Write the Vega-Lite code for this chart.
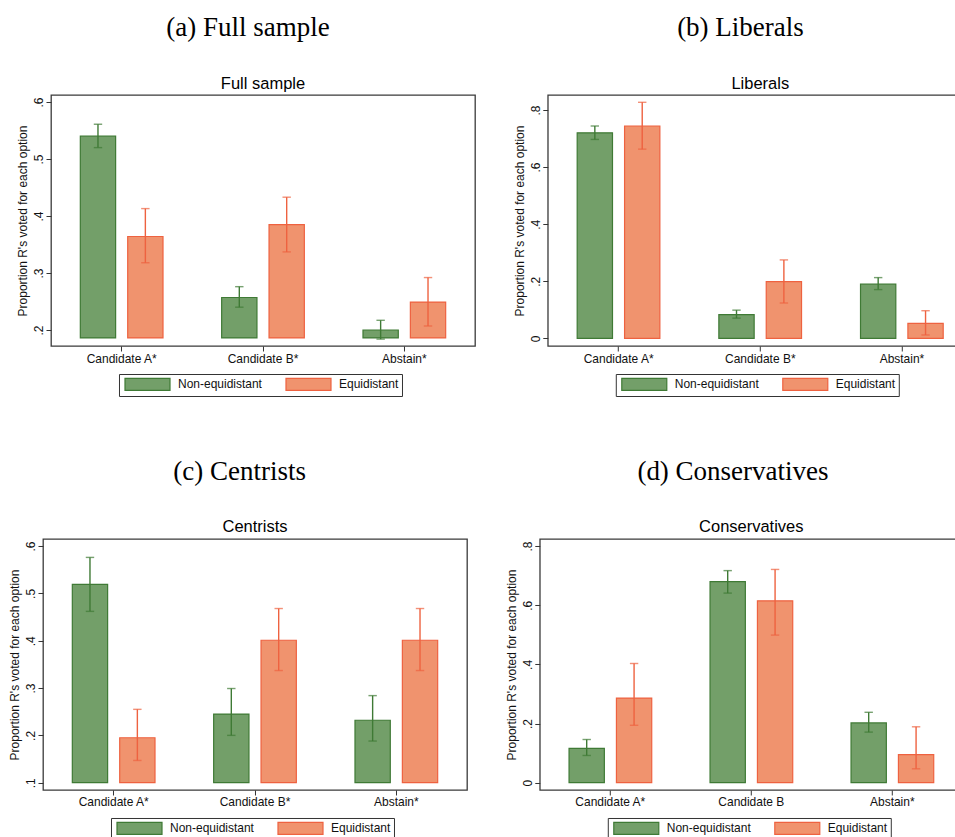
{
  "$schema": "https://vega.github.io/schema/vega-lite/v6.json",
  "background": "white",
  "padding": {"left": -29.8, "top": 13, "right": 0, "bottom": 30},
  "datasets": {
    "a": [
      {"option": "Candidate A*", "group": "Non-equidistant", "mean": 0.540, "lo": 0.520, "hi": 0.561},
      {"option": "Candidate A*", "group": "Equidistant", "mean": 0.364, "lo": 0.318, "hi": 0.413},
      {"option": "Candidate B*", "group": "Non-equidistant", "mean": 0.257, "lo": 0.240, "hi": 0.276},
      {"option": "Candidate B*", "group": "Equidistant", "mean": 0.385, "lo": 0.337, "hi": 0.433},
      {"option": "Abstain*", "group": "Non-equidistant", "mean": 0.200, "lo": 0.184, "hi": 0.217},
      {"option": "Abstain*", "group": "Equidistant", "mean": 0.249, "lo": 0.207, "hi": 0.292}
    ],
    "b": [
      {"option": "Candidate A*", "group": "Non-equidistant", "mean": 0.720, "lo": 0.697, "hi": 0.744},
      {"option": "Candidate A*", "group": "Equidistant", "mean": 0.744, "lo": 0.663, "hi": 0.827},
      {"option": "Candidate B*", "group": "Non-equidistant", "mean": 0.083, "lo": 0.071, "hi": 0.099},
      {"option": "Candidate B*", "group": "Equidistant", "mean": 0.199, "lo": 0.124, "hi": 0.275},
      {"option": "Abstain*", "group": "Non-equidistant", "mean": 0.190, "lo": 0.171, "hi": 0.213},
      {"option": "Abstain*", "group": "Equidistant", "mean": 0.053, "lo": 0.012, "hi": 0.097}
    ],
    "c": [
      {"option": "Candidate A*", "group": "Non-equidistant", "mean": 0.519, "lo": 0.462, "hi": 0.576},
      {"option": "Candidate A*", "group": "Equidistant", "mean": 0.195, "lo": 0.147, "hi": 0.255},
      {"option": "Candidate B*", "group": "Non-equidistant", "mean": 0.245, "lo": 0.200, "hi": 0.299},
      {"option": "Candidate B*", "group": "Equidistant", "mean": 0.401, "lo": 0.337, "hi": 0.468},
      {"option": "Abstain*", "group": "Non-equidistant", "mean": 0.232, "lo": 0.188, "hi": 0.284},
      {"option": "Abstain*", "group": "Equidistant", "mean": 0.401, "lo": 0.337, "hi": 0.468}
    ],
    "d": [
      {"option": "Candidate A*", "group": "Non-equidistant", "mean": 0.116, "lo": 0.092, "hi": 0.146},
      {"option": "Candidate A*", "group": "Equidistant", "mean": 0.286, "lo": 0.194, "hi": 0.403},
      {"option": "Candidate B", "group": "Non-equidistant", "mean": 0.680, "lo": 0.641, "hi": 0.717},
      {"option": "Candidate B", "group": "Equidistant", "mean": 0.615, "lo": 0.499, "hi": 0.721},
      {"option": "Abstain*", "group": "Non-equidistant", "mean": 0.202, "lo": 0.171, "hi": 0.238},
      {"option": "Abstain*", "group": "Equidistant", "mean": 0.095, "lo": 0.047, "hi": 0.189}
    ]
  },
  "config": {
    "font": "Liberation Sans",
    "view": {"stroke": "#3a3a3a", "strokeWidth": 1.3},
    "axis": {"labelFont": "Liberation Sans", "labelFontSize": 12, "labelColor": "#111", "titleFont": "Liberation Sans", "titleFontSize": 12, "titleFontWeight": "normal", "titleColor": "#111", "domain": false, "grid": false, "tickColor": "#333", "tickSize": 5, "tickWidth": 1},
    "legend": {"labelFont": "Liberation Sans", "labelFontSize": 12, "labelColor": "#111", "labelOffset": 42, "columnPadding": 20, "padding": 3, "strokeColor": "#333", "fillColor": "white", "symbolStrokeWidth": 1.2, "symbolOpacity": 1}
  },
  "spacing": 60,
  "resolve": {"scale": {"fill": "independent", "stroke": "independent"}, "legend": {"fill": "independent", "stroke": "independent"}},
  "vconcat": [
    {
      "spacing": 35.8,
      "resolve": {"scale": {"fill": "independent", "stroke": "independent"}, "legend": {"fill": "independent", "stroke": "independent"}},
      "hconcat": [
        {"width": 8.7, "height": 1, "data": {"values": []}, "mark": "point", "view": {"stroke": null, "fill": "white"}},
        {
          "title": {"text": "(a) Full sample", "font": "Liberation Serif", "fontSize": 27, "fontWeight": "normal", "color": "#000", "anchor": "middle", "offset": 33, "dx": 2.3},
          "vconcat": [
            {
              "width": 424, "height": 251,
              "data": {"name": "a"},
              "title": {"text": "Full sample", "font": "Liberation Sans", "fontSize": 16.5, "fontWeight": "normal", "color": "#000", "anchor": "middle", "frame": "group", "offset": 3},
              "encoding": {
                "x": {"field": "option", "type": "nominal", "sort": ["Candidate A*", "Candidate B*", "Abstain*"], "scale": {"paddingInner": 0.415, "paddingOuter": 0.2075}, "axis": {"title": null, "labelAngle": 0, "labelPadding": 2}},
                "xOffset": {"field": "group", "type": "nominal", "sort": ["Non-equidistant", "Equidistant"], "scale": {"paddingInner": 0.255, "paddingOuter": 0}}
              },
              "layer": [
                {"mark": {"type": "bar", "strokeWidth": 1.2},
                 "encoding": {
                   "y": {"field": "mean", "type": "quantitative", "scale": {"domain": [0.1719, 0.6123], "nice": false, "zero": false}, "axis": {"values": [0.2, 0.3, 0.4, 0.5, 0.6], "labelAngle": 270, "labelExpr": "datum.value == 0 ? '0' : replace(format(datum.value, '.1f'), '0.', '.')", "title": "Proportion R's voted for each option", "labelPadding": 0.3, "titlePadding": 3.4}},
                   "y2": {"datum": 0.186},
                   "fill": {"field": "group", "type": "nominal", "scale": {"domain": ["Non-equidistant", "Equidistant"], "range": ["#739f69", "#f0936e"]}, "legend": {"title": null, "orient": "none", "legendX": 68, "legendY": 279, "direction": "horizontal", "symbolType": "M-0.667,-1L6.833,-1L6.833,1L-0.667,1Z", "symbolSize": 144}},
                   "stroke": {"field": "group", "type": "nominal", "scale": {"domain": ["Non-equidistant", "Equidistant"], "range": ["#3f7a35", "#ee6240"]}, "legend": {"title": null, "orient": "none", "legendX": 68, "legendY": 279, "direction": "horizontal", "symbolType": "M-0.667,-1L6.833,-1L6.833,1L-0.667,1Z", "symbolSize": 144}}
                 }},
                {"mark": {"type": "rule", "strokeWidth": 1.4}, "encoding": {"y": {"field": "lo", "type": "quantitative"}, "y2": {"field": "hi"}, "stroke": {"field": "group", "type": "nominal"}}},
                {"mark": {"type": "tick", "filled": false, "thickness": 0.01, "size": 7, "strokeWidth": 1.4}, "encoding": {"y": {"field": "lo", "type": "quantitative"}, "stroke": {"field": "group", "type": "nominal"}}},
                {"mark": {"type": "tick", "filled": false, "thickness": 0.01, "size": 7, "strokeWidth": 1.4}, "encoding": {"y": {"field": "hi", "type": "quantitative"}, "stroke": {"field": "group", "type": "nominal"}}}
              ]
            }
          ]
        },
        {
          "title": {"text": "(b) Liberals", "font": "Liberation Serif", "fontSize": 27, "fontWeight": "normal", "color": "#000", "anchor": "middle", "offset": 33, "dx": -2.5},
          "vconcat": [
            {
              "width": 425, "height": 251,
              "data": {"name": "b"},
              "title": {"text": "Liberals", "font": "Liberation Sans", "fontSize": 16.5, "fontWeight": "normal", "color": "#000", "anchor": "middle", "frame": "group", "offset": 3},
              "encoding": {
                "x": {"field": "option", "type": "nominal", "sort": ["Candidate A*", "Candidate B*", "Abstain*"], "scale": {"paddingInner": 0.415, "paddingOuter": 0.2075}, "axis": {"title": null, "labelAngle": 0, "labelPadding": 2}},
                "xOffset": {"field": "group", "type": "nominal", "sort": ["Non-equidistant", "Equidistant"], "scale": {"paddingInner": 0.255, "paddingOuter": 0}}
              },
              "layer": [
                {"mark": {"type": "bar", "strokeWidth": 1.2},
                 "encoding": {
                   "y": {"field": "mean", "type": "quantitative", "scale": {"domain": [-0.0266, 0.8526], "nice": false, "zero": false}, "axis": {"values": [0, 0.2, 0.4, 0.6, 0.8], "labelAngle": 270, "labelExpr": "datum.value == 0 ? '0' : replace(format(datum.value, '.1f'), '0.', '.')", "title": "Proportion R's voted for each option", "labelPadding": 0.3, "titlePadding": 3.4}},
                   "y2": {"datum": 0},
                   "fill": {"field": "group", "type": "nominal", "scale": {"domain": ["Non-equidistant", "Equidistant"], "range": ["#739f69", "#f0936e"]}, "legend": {"title": null, "orient": "none", "legendX": 68, "legendY": 279, "direction": "horizontal", "symbolType": "M-0.667,-1L6.833,-1L6.833,1L-0.667,1Z", "symbolSize": 144}},
                   "stroke": {"field": "group", "type": "nominal", "scale": {"domain": ["Non-equidistant", "Equidistant"], "range": ["#3f7a35", "#ee6240"]}, "legend": {"title": null, "orient": "none", "legendX": 68, "legendY": 279, "direction": "horizontal", "symbolType": "M-0.667,-1L6.833,-1L6.833,1L-0.667,1Z", "symbolSize": 144}}
                 }},
                {"mark": {"type": "rule", "strokeWidth": 1.4}, "encoding": {"y": {"field": "lo", "type": "quantitative"}, "y2": {"field": "hi"}, "stroke": {"field": "group", "type": "nominal"}}},
                {"mark": {"type": "tick", "filled": false, "thickness": 0.01, "size": 7, "strokeWidth": 1.4}, "encoding": {"y": {"field": "lo", "type": "quantitative"}, "stroke": {"field": "group", "type": "nominal"}}},
                {"mark": {"type": "tick", "filled": false, "thickness": 0.01, "size": 7, "strokeWidth": 1.4}, "encoding": {"y": {"field": "hi", "type": "quantitative"}, "stroke": {"field": "group", "type": "nominal"}}}
              ]
            }
          ]
        }
      ]
    },
    {
      "spacing": 35.8,
      "resolve": {"scale": {"fill": "independent", "stroke": "independent"}, "legend": {"fill": "independent", "stroke": "independent"}},
      "hconcat": [
        {"width": 1, "height": 1, "data": {"values": []}, "mark": "point", "view": {"stroke": null, "fill": "white"}},
        {
          "title": {"text": "(c) Centrists", "font": "Liberation Serif", "fontSize": 27, "fontWeight": "normal", "color": "#000", "anchor": "middle", "offset": 33, "dx": 2},
          "vconcat": [
            {
              "width": 424, "height": 251,
              "data": {"name": "c"},
              "title": {"text": "Centrists", "font": "Liberation Sans", "fontSize": 16.5, "fontWeight": "normal", "color": "#000", "anchor": "middle", "frame": "group", "offset": 3},
              "encoding": {
                "x": {"field": "option", "type": "nominal", "sort": ["Candidate A*", "Candidate B*", "Abstain*"], "scale": {"paddingInner": 0.415, "paddingOuter": 0.2075}, "axis": {"title": null, "labelAngle": 0, "labelPadding": 2}},
                "xOffset": {"field": "group", "type": "nominal", "sort": ["Non-equidistant", "Equidistant"], "scale": {"paddingInner": 0.255, "paddingOuter": 0}}
              },
              "layer": [
                {"mark": {"type": "bar", "strokeWidth": 1.2},
                 "encoding": {
                   "y": {"field": "mean", "type": "quantitative", "scale": {"domain": [0.0846, 0.6149], "nice": false, "zero": false}, "axis": {"values": [0.1, 0.2, 0.3, 0.4, 0.5, 0.6], "labelAngle": 270, "labelExpr": "datum.value == 0 ? '0' : replace(format(datum.value, '.1f'), '0.', '.')", "title": "Proportion R's voted for each option", "labelPadding": 0.3, "titlePadding": 3.4}},
                   "y2": {"datum": 0.1},
                   "fill": {"field": "group", "type": "nominal", "scale": {"domain": ["Non-equidistant", "Equidistant"], "range": ["#739f69", "#f0936e"]}, "legend": {"title": null, "orient": "none", "legendX": 68, "legendY": 279, "direction": "horizontal", "symbolType": "M-0.667,-1L6.833,-1L6.833,1L-0.667,1Z", "symbolSize": 144}},
                   "stroke": {"field": "group", "type": "nominal", "scale": {"domain": ["Non-equidistant", "Equidistant"], "range": ["#3f7a35", "#ee6240"]}, "legend": {"title": null, "orient": "none", "legendX": 68, "legendY": 279, "direction": "horizontal", "symbolType": "M-0.667,-1L6.833,-1L6.833,1L-0.667,1Z", "symbolSize": 144}}
                 }},
                {"mark": {"type": "rule", "strokeWidth": 1.4}, "encoding": {"y": {"field": "lo", "type": "quantitative"}, "y2": {"field": "hi"}, "stroke": {"field": "group", "type": "nominal"}}},
                {"mark": {"type": "tick", "filled": false, "thickness": 0.01, "size": 7, "strokeWidth": 1.4}, "encoding": {"y": {"field": "lo", "type": "quantitative"}, "stroke": {"field": "group", "type": "nominal"}}},
                {"mark": {"type": "tick", "filled": false, "thickness": 0.01, "size": 7, "strokeWidth": 1.4}, "encoding": {"y": {"field": "hi", "type": "quantitative"}, "stroke": {"field": "group", "type": "nominal"}}}
              ]
            }
          ]
        },
        {
          "title": {"text": "(d) Conservatives", "font": "Liberation Serif", "fontSize": 27, "fontWeight": "normal", "color": "#000", "anchor": "middle", "offset": 33, "dx": -1},
          "vconcat": [
            {
              "width": 423, "height": 251,
              "data": {"name": "d"},
              "title": {"text": "Conservatives", "font": "Liberation Sans", "fontSize": 16.5, "fontWeight": "normal", "color": "#000", "anchor": "middle", "frame": "group", "offset": 3},
              "encoding": {
                "x": {"field": "option", "type": "nominal", "sort": ["Candidate A*", "Candidate B", "Abstain*"], "scale": {"paddingInner": 0.415, "paddingOuter": 0.2075}, "axis": {"title": null, "labelAngle": 0, "labelPadding": 2}},
                "xOffset": {"field": "group", "type": "nominal", "sort": ["Non-equidistant", "Equidistant"], "scale": {"paddingInner": 0.255, "paddingOuter": 0}}
              },
              "layer": [
                {"mark": {"type": "bar", "strokeWidth": 1.2},
                 "encoding": {
                   "y": {"field": "mean", "type": "quantitative", "scale": {"domain": [-0.0247, 0.8239], "nice": false, "zero": false}, "axis": {"values": [0, 0.2, 0.4, 0.6, 0.8], "labelAngle": 270, "labelExpr": "datum.value == 0 ? '0' : replace(format(datum.value, '.1f'), '0.', '.')", "title": "Proportion R's voted for each option", "labelPadding": 0.3, "titlePadding": 3.4}},
                   "y2": {"datum": 0},
                   "fill": {"field": "group", "type": "nominal", "scale": {"domain": ["Non-equidistant", "Equidistant"], "range": ["#739f69", "#f0936e"]}, "legend": {"title": null, "orient": "none", "legendX": 68, "legendY": 279, "direction": "horizontal", "symbolType": "M-0.667,-1L6.833,-1L6.833,1L-0.667,1Z", "symbolSize": 144}},
                   "stroke": {"field": "group", "type": "nominal", "scale": {"domain": ["Non-equidistant", "Equidistant"], "range": ["#3f7a35", "#ee6240"]}, "legend": {"title": null, "orient": "none", "legendX": 68, "legendY": 279, "direction": "horizontal", "symbolType": "M-0.667,-1L6.833,-1L6.833,1L-0.667,1Z", "symbolSize": 144}}
                 }},
                {"mark": {"type": "rule", "strokeWidth": 1.4}, "encoding": {"y": {"field": "lo", "type": "quantitative"}, "y2": {"field": "hi"}, "stroke": {"field": "group", "type": "nominal"}}},
                {"mark": {"type": "tick", "filled": false, "thickness": 0.01, "size": 7, "strokeWidth": 1.4}, "encoding": {"y": {"field": "lo", "type": "quantitative"}, "stroke": {"field": "group", "type": "nominal"}}},
                {"mark": {"type": "tick", "filled": false, "thickness": 0.01, "size": 7, "strokeWidth": 1.4}, "encoding": {"y": {"field": "hi", "type": "quantitative"}, "stroke": {"field": "group", "type": "nominal"}}}
              ]
            }
          ]
        }
      ]
    }
  ]
}
